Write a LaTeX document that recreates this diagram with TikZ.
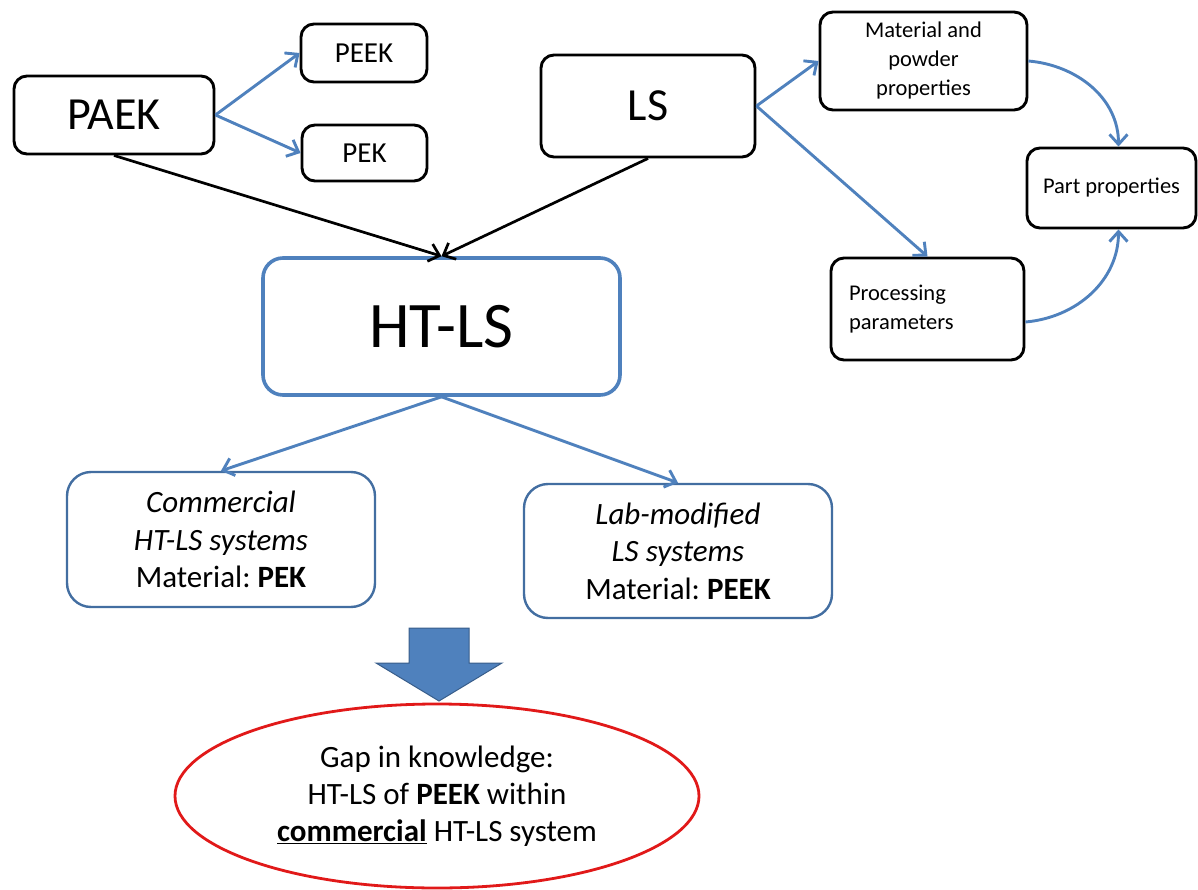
\documentclass[tikz,border=0pt]{standalone}
\usepackage{fontspec}
\setmainfont{Carlito}
\usetikzlibrary{arrows.meta, shapes.geometric}
\definecolor{officeblue}{RGB}{79,129,189}
\definecolor{darkblue}{RGB}{56,93,138}
\definecolor{gapred}{RGB}{225,25,25}
\frenchspacing

\begin{document}
\begin{tikzpicture}[x=1pt, y=-1pt,
    blackbox/.style={draw=black, line width=2.9pt, rounded corners=13pt, align=center, inner sep=0pt},
    bluebox/.style={draw=officeblue!85!black, line width=2.4pt, rounded corners=24pt, align=center, inner sep=0pt},
    blueline/.style={draw=officeblue, line width=2.9pt, -{Straight Barb[length=10pt, width=18pt]}},
    blackline/.style={draw=black, line width=2.7pt, -{Straight Barb[length=10pt, width=18pt]}}
]
    \useasboundingbox (0,0) rectangle (1198,890);

    % Top left: PAEK and its two polymers
    \node[blackbox, minimum width=200pt, minimum height=78pt, font=\fontsize{46pt}{55pt}\selectfont] (paek) at (114,115) {PAEK};
    \node[blackbox, minimum width=126pt, minimum height=58pt, font=\fontsize{29pt}{35pt}\selectfont] (peek) at (364,53) {PEEK};
    \node[blackbox, minimum width=125pt, minimum height=56pt, font=\fontsize{29pt}{35pt}\selectfont] (pek) at (364.5,153) {PEK};

    % Top right: LS and what it depends on
    \node[blackbox, minimum width=214pt, minimum height=102pt, font=\fontsize{46pt}{55pt}\selectfont] (ls) at (648,106) {LS};
    \node[blackbox, minimum width=207pt, minimum height=98pt, font=\fontsize{22.5pt}{29pt}\selectfont] (mat) at (923.5,61) {Material and\\powder\\properties};
    \node[blackbox, minimum width=169pt, minimum height=80pt, font=\fontsize{22.5pt}{29pt}\selectfont] (part) at (1111.5,188) {Part properties};
    \node[blackbox, minimum width=193pt, minimum height=102pt, text width=157pt, align=left, font=\fontsize{22.5pt}{29pt}\selectfont] (proc) at (927.5,309) {Processing\\parameters};

    % Middle: HT-LS
    \node[bluebox, draw=officeblue, line width=3.6pt, rounded corners=20pt, minimum width=357pt, minimum height=137pt, font=\fontsize{65pt}{78pt}\selectfont] (htls) at (441.5,326.5) {HT-LS};

    % Two kinds of HT-LS systems
    \node[bluebox, minimum width=308pt, minimum height=135pt, font=\fontsize{31pt}{37.5pt}\selectfont] (comm) at (221,539.5) {\textit{Commercial}\\\textit{HT-LS systems}\\Material: \textbf{PEK}};
    \node[bluebox, minimum width=308pt, minimum height=134pt, font=\fontsize{31pt}{37.5pt}\selectfont] (lab) at (678,551) {\textit{Lab-modified}\\\textit{LS systems}\\Material: \textbf{PEEK}};

    % Conclusion
    \node[ellipse, draw=gapred, line width=2.8pt, minimum width=524pt, minimum height=184pt, inner sep=0pt, align=center, font=\fontsize{31pt}{37pt}\selectfont] (gap) at (437,796) {Gap in knowledge:\\HT-LS of \textbf{PEEK} within\\\underline{\textbf{commercial}} HT-LS system};

    % Block arrow
    \filldraw[fill=officeblue, draw=darkblue, line width=1pt] (409,628) -- (469,628) -- (469,663) -- (502,663) -- (439,701) -- (376,663) -- (409,663) -- cycle;

    % Connectors
    \draw[blueline] (paek.east) -- (peek.west);
    \draw[blueline] (paek.east) -- (pek.west);
    \draw[blackline] (paek.south) -- (htls.north);
    \draw[blackline] (ls.south) -- (htls.north);
    \draw[blueline] (ls.east) -- (mat.west);
    \draw[blueline] (ls.east) -- (proc.north);
    \draw[blueline] (mat.east) to[out=-5, in=90] ([xshift=7pt]part.north);
    \draw[blueline] ([yshift=-13pt]proc.east) to[out=5, in=-90] ([xshift=7pt]part.south);
    \draw[blueline] (htls.south) -- (comm.north);
    \draw[blueline] (htls.south) -- (lab.north);

\end{tikzpicture}
\end{document}
